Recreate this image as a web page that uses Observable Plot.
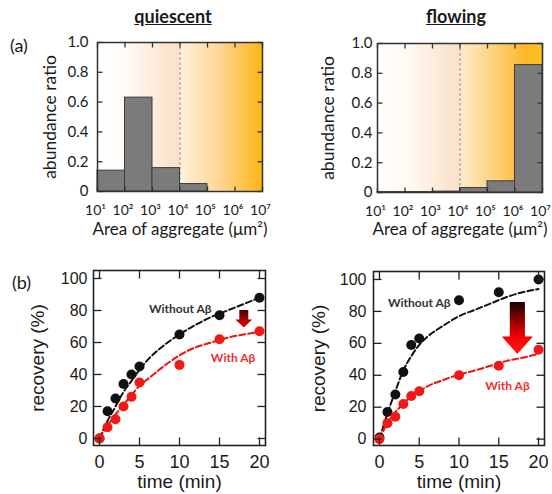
<!DOCTYPE html>
<html><head><meta charset="utf-8">
<script src="https://cdn.jsdelivr.net/npm/d3@7"></script>
<script src="https://cdn.jsdelivr.net/npm/@observablehq/plot@0.6"></script>
<style>
body{margin:0;background:#fff;}
#root{position:relative;width:552px;height:494px;overflow:hidden;background:#fff;}
.abs{position:absolute;}
.title{font-family:Lato,"Open Sans",sans-serif;font-weight:bold;font-size:18px;line-height:18px;text-decoration:underline;color:#1a1a1a;transform:translateX(-50%);white-space:nowrap;}
.tag{font-family:Lato,"Open Sans",sans-serif;font-size:18px;line-height:18px;color:#1a1a1a;}
</style></head><body><div id="root"></div>
<script>
// ---------- data ----------
const binEdges = [1e1, 1e2, 1e3, 1e4, 1e5, 1e6, 1e7];
const quiescentRatio = [0.14, 0.63, 0.157, 0.05, 0, 0];
const flowingRatio = [0.003, 0.003, 0.006, 0.03, 0.075, 0.855];
const decadeTicks = [1e1, 1e2, 1e3, 1e4, 1e5, 1e6, 1e7];
const decadeLabels = ["10¹", "10²", "10³", "10⁴", "10⁵", "10⁶", "10⁷"];
const ratioTicks = [0, 0.2, 0.4, 0.6, 0.8, 1.0];
const ratioLabels = ["0", "0.2", "0.4", "0.6", "0.8", "1.0"];
const threshold = [1e4];

const times = [0, 1, 2, 3, 4, 5, 10, 15, 20];
const qWithout = [0, 17, 25, 34, 40, 45, 65, 77, 88];
const qWith = [0, 7, 12, 20, 26, 35, 46, 62, 67];
const fWithout = [1, 17, 28, 42, 59, 63, 87, 92, 100];
const fWith = [0, 10, 14, 22, 27, 30, 40, 46, 56];

const fitTimes = [0, 1, 2, 3, 4, 5, 6, 8, 10, 12, 14, 16, 18, 20];
const qWithoutFit = [0, 11, 20, 29, 36, 43, 49, 58, 65, 71, 76, 80, 84, 88];
const qWithFit = [0, 8, 15, 21, 27, 33, 37, 45, 52, 57, 60, 63, 65, 66.5];
const fWithoutFit = [0, 16, 30, 43, 52, 59, 64, 71, 77, 81, 85, 89, 92, 94];
const fWithFit = [0, 10, 17, 22, 27, 30, 33, 37, 40.5, 43, 46, 49, 51, 53.5];

const timeTicks = [0, 5, 10, 15, 20];
const recoveryTicks = [0, 20, 40, 60, 80, 100];
const seriesNames = ["Without Aβ", "With Aβ"];

// ---------- helpers ----------
const root = document.getElementById("root");
function place(el, left, top) { el.classList.add("abs"); el.style.left = left + "px"; el.style.top = top + "px"; root.appendChild(el); }
function div(cls, text, left, top) { const d = document.createElement("div"); d.className = cls; d.textContent = text; place(d, left, top); }
function addGradients(svg, grads) {
  const defs = d3.select(svg).insert("defs", ":first-child");
  for (const g of grads) {
    const lg = defs.append("linearGradient").attr("id", g.id)
      .attr("x1", 0).attr("y1", 0).attr("x2", g.vertical ? 0 : 1).attr("y2", g.vertical ? 1 : 0);
    for (const [o, c] of g.stops) lg.append("stop").attr("offset", o).attr("stop-color", c);
  }
}
// inward ticks on all four sides, drawn in a transparent overlay plot with identical scales
function tickOverlay(dims, xScale, yScale, xt, yt, sx, sy, L, stroke) {
  const [xl, xr] = sx.domain(), [yb, ytop] = sy.domain();
  const xIn = sx.invert(sx(xl) + L), xInR = sx.invert(sx(xr) - L);
  const yIn = sy.invert(sy(yb) - L), yInT = sy.invert(sy(ytop) + L);
  const o = {stroke, strokeWidth: 1.3};
  const svg = Plot.plot({
    ...dims,
    style: {background: "transparent", overflow: "visible"},
    x: {...xScale, axis: null}, y: {...yScale, axis: null},
    marks: [
      Plot.link(xt, {x1: d => d, x2: d => d, y1: () => yb, y2: () => yIn, ...o}),
      Plot.link(xt, {x1: d => d, x2: d => d, y1: () => yInT, y2: () => ytop, ...o}),
      Plot.link(yt, {y1: d => d, y2: d => d, x1: () => xl, x2: () => xIn, ...o}),
      Plot.link(yt, {y1: d => d, y2: d => d, x1: () => xInR, x2: () => xr, ...o})
    ]
  });
  svg.style.pointerEvents = "none";
  return svg;
}

const topFont = "Lato, 'Open Sans', sans-serif";
const botFont = "'Liberation Sans', Arial, sans-serif";

// ---------- histogram panels ----------
function histogram(ratio, id, box, rightStops, tickGap, left, top) {
  const W = 276, H = 210;
  const dims = {width: W, height: H, marginLeft: box.ml, marginRight: box.mr, marginTop: box.mt, marginBottom: box.mb};
  const xScale = {type: "log", domain: [1e1, 1e7]}, yScale = {domain: [0, 1]};
  const sx = d3.scaleLog().domain([1e1, 1e7]).range([box.ml, W - box.mr]);
  const sy = d3.scaleLinear().domain([0, 1]).range([H - box.mb, box.mt]);
  const bins = d3.range(ratio.length).filter(i => ratio[i] > 0);
  const svg = Plot.plot({
    ...dims,
    style: {fontFamily: topFont, background: "transparent", color: "#1a1a1a", overflow: "visible"},
    x: {...xScale, axis: null},
    y: {...yScale, axis: null},
    marks: [
      Plot.rect([0], {x1: () => binEdges[0], x2: () => threshold[0], y1: () => 0, y2: () => 1, fill: `url(#${id}L)`}),
      Plot.rect([0], {x1: () => threshold[0], x2: () => binEdges[6], y1: () => 0, y2: () => 1, fill: `url(#${id}R)`}),
      Plot.ruleX(threshold, {x: d => d, stroke: "#8c8c8c", strokeWidth: 1, strokeDasharray: "3,2"}),
      Plot.rectY(bins, {x1: i => binEdges[i], x2: i => binEdges[i + 1], y: i => ratio[i], fill: "#7b7b7b", stroke: "#3c3c3c", strokeWidth: 1}),
      Plot.frame({stroke: "#333", strokeWidth: 1.5}),
      Plot.text(decadeTicks, {x: d => d, frameAnchor: "bottom", lineAnchor: "middle", dy: 19, dx: -2, text: (d, i) => decadeLabels[i], fontSize: 14, fill: "#1a1a1a"}),
      Plot.text(ratioTicks, {y: d => d, frameAnchor: "left", lineAnchor: "middle", dx: -tickGap, textAnchor: "end", text: (d, i) => ratioLabels[i], fontSize: 15, fill: "#1a1a1a"}),
      Plot.text(["abundance ratio"], {frameAnchor: "left", textAnchor: "middle", lineAnchor: "middle", dx: box.ylab, rotate: -90, fontSize: 17.5, fill: "#1a1a1a"}),
      Plot.text(["Area of aggregate (μm²)"], {frameAnchor: "bottom", textAnchor: "middle", lineAnchor: "middle", dy: box.xlab, fontSize: 17, fill: "#1a1a1a"})
    ]
  });
  addGradients(svg, [
    {id: id + "L", stops: [[0, "#ffffff"], [0.35, "#fffaf5"], [1, "#fbe0c6"]]},
    {id: id + "R", stops: rightStops}
  ]);
  place(svg, left, top);
  place(tickOverlay(dims, xScale, yScale, decadeTicks, ratioTicks, sx, sy, 5, "#333"), left, top);
}

histogram(quiescentRatio, "gq", {ml: 97, mr: 14, mt: 12, mb: 49, ylab: -47, xlab: 38},
  [[0, "#fff1dd"], [0.5, "#fed592"], [1, "#fdb515"]], 9, 0, 30);
histogram(flowingRatio, "gf", {ml: 101, mr: 10, mt: 13, mb: 48, ylab: -49, xlab: 37},
  [[0, "#feecd0"], [0.55, "#fdc862"], [0.8, "#fdb828"], [1, "#fec21e"]], 5, 276, 30);

// ---------- recovery panels ----------
function recovery(without, withAb, withoutFit, withFit, id, box, arrow, labelPos, left, top) {
  const W = 276, H = 254;
  const dims = {width: W, height: H, marginLeft: box.ml, marginRight: box.mr, marginTop: box.mt, marginBottom: box.mb};
  const xScale = {domain: [-0.75, 20.75]}, yScale = {domain: [box.y0, 105]};
  const sx = d3.scaleLinear().domain([-0.75, 20.75]).range([box.ml, W - box.mr]);
  const sy = d3.scaleLinear().domain([box.y0, 105]).range([H - box.mb, box.mt]);
  const arrowPts = [
    {y: arrow.top, x1: arrow.cx - arrow.shaft, x2: arrow.cx + arrow.shaft},
    {y: arrow.neck, x1: arrow.cx - arrow.shaft, x2: arrow.cx + arrow.shaft},
    {y: arrow.neck, x1: arrow.cx - arrow.head, x2: arrow.cx + arrow.head},
    {y: arrow.tip, x1: arrow.cx, x2: arrow.cx}
  ];
  const svg = Plot.plot({
    ...dims,
    style: {fontFamily: botFont, background: "transparent", color: "#1a1a1a", overflow: "visible"},
    x: {...xScale, axis: null},
    y: {...yScale, axis: null},
    marks: [
      Plot.frame({stroke: "#222", strokeWidth: 1.6}),
      Plot.areaX(arrowPts, {y: "y", x1: "x1", x2: "x2", fill: `url(#${id}A)`, curve: "linear"}),
      Plot.line(fitTimes, {x: t => t, y: (t, i) => withoutFit[i], stroke: "#111", strokeWidth: 2, strokeDasharray: "6,3", curve: "monotone-x"}),
      Plot.line(fitTimes, {x: t => t, y: (t, i) => withFit[i], stroke: "#f01010", strokeWidth: 2, strokeDasharray: "6,3", curve: "monotone-x"}),
      Plot.dot(times, {x: t => t, y: (t, i) => without[i], r: 5, fill: "#111", stroke: "none"}),
      Plot.dot(times, {x: t => t, y: (t, i) => withAb[i], r: 5, fill: "#f21818", stroke: "none"}),
      Plot.text(seriesNames, {x: (d, i) => labelPos[i][0], y: (d, i) => labelPos[i][1], text: d => d,
        fill: (d, i) => i === 0 ? "#333" : "#f03030", fontSize: 12, fontWeight: "bold", fontFamily: topFont}),
      Plot.text(timeTicks, {x: d => d, frameAnchor: "bottom", lineAnchor: "middle", dy: 17, text: d => String(d), fontSize: 18, fill: "#1a1a1a"}),
      Plot.text(recoveryTicks, {y: d => d, frameAnchor: "left", lineAnchor: "middle", dx: -box.gap, textAnchor: "end", text: d => String(d), fontSize: 16, fill: "#1a1a1a"}),
      Plot.text(["recovery (%)"], {frameAnchor: "left", textAnchor: "middle", lineAnchor: "middle", dx: box.ylab, rotate: -90, fontSize: 19, fill: "#1a1a1a"}),
      Plot.text(["time (min)"], {frameAnchor: "bottom", textAnchor: "middle", lineAnchor: "middle", dy: 36, fontSize: 19, fill: "#1a1a1a"})
    ]
  });
  addGradients(svg, [{id: id + "A", vertical: true, stops: arrow.stops}]);
  place(svg, left, top);
  place(tickOverlay(dims, xScale, yScale, timeTicks, recoveryTicks, sx, sy, 8, "#222"), left, top);
}

recovery(qWithout, qWith, qWithoutFit, qWithFit, "rq",
  {ml: 93, mr: 11, mt: 30, mb: 49, y0: -4.4, gap: 6, ylab: -56},
  {cx: 18.1, top: 80, neck: 74, tip: 69, shaft: 0.56, head: 1.05, stops: [[0, "#4a0000"], [0.5, "#a00000"], [1, "#ee0000"]]},
  [[10.1, 81], [16.7, 50]], 0, 240);
recovery(fWithout, fWith, fWithoutFit, fWithFit, "rf",
  {ml: 97, mr: 8, mt: 31, mb: 49, y0: -4, gap: 7, ylab: -55},
  {cx: 17.4, top: 85.6, neck: 64, tip: 53, shaft: 0.95, head: 1.95, stops: [[0, "#1a0000"], [0.45, "#b00000"], [0.7, "#ff0000"], [1, "#ff1a1a"]]},
  [[5.0, 85], [16.1, 33]], 276, 240);

// ---------- titles & panel tags ----------
div("title", "quiescent", 173, 7);
div("title", "flowing", 456, 7);
div("tag", "(a)", 10, 36);
div("tag", "(b)", 12, 273);
</script></body></html>
